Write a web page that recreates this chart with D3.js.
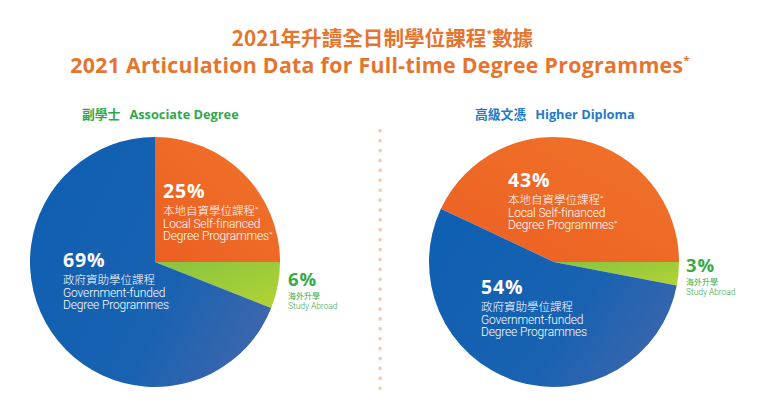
<!DOCTYPE html>
<html>
<head>
<meta charset="utf-8">
<script src="https://cdn.jsdelivr.net/npm/d3@7"></script>
<style>
  html, body { margin: 0; padding: 0; background: #ffffff; }
  svg { display: block; }
</style>
</head>
<body>
<svg id="chart" width="778" height="411"></svg>
<script>
// ---- Data ----
const titleZh = "2021年升讀全日制學位課程";
const titleZh2 = "數據";
const titleEn = "2021 Articulation Data for Full-time Degree Programmes";
const categoriesZh = ["本地自資學位課程", "海外升學", "政府資助學位課程"];
const categoriesEn = [["Local Self-financed", "Degree Programmes"], ["Study Abroad"], ["Government-funded", "Degree Programmes"]];
const categoryKeys = ["self", "abroad", "gov"];
const associateValues = [25, 6, 69];
const diplomaValues = [43, 3, 54];
const groupNamesZh = ["副學士", "高級文憑"];
const groupNamesEn = ["Associate Degree", "Higher Diploma"];

const svg = d3.select("#chart");
const zhFont = "'Noto Sans CJK TC', 'Noto Sans CJK SC', sans-serif";
const enFont = "'Open Sans', 'Noto Sans', sans-serif";
const lblFont = "Roboto, 'Open Sans', sans-serif";

// ---- Gradients ----
const defs = svg.append("defs");
function lin(id, x1, y1, x2, y2, stops) {
  const g = defs.append("linearGradient").attr("id", id)
    .attr("x1", x1).attr("y1", y1).attr("x2", x2).attr("y2", y2);
  stops.forEach(s => g.append("stop").attr("offset", s[0]).attr("stop-color", s[1]));
}
lin("gBlue", "0%", "30%", "100%", "80%", [["0%", "#0f5fb2"], ["60%", "#1a62b1"], ["100%", "#4066ad"]]);
lin("gOrange", "100%", "0%", "0%", "100%", [["0%", "#f0742a"], ["100%", "#ec5f22"]]);
lin("gGreen", "0%", "0%", "100%", "100%", [["0%", "#86c440"], ["100%", "#b4d334"]]);
const fills = { self: "url(#gOrange)", abroad: "url(#gGreen)", gov: "url(#gBlue)" };

// ---- Title ----
const t1 = svg.append("text").attr("x", 382.5).attr("y", 46)
  .attr("text-anchor", "middle").attr("fill", "#e5742f")
  .style("font-family", zhFont).style("font-weight", 700).style("font-size", "20.6px");
t1.append("tspan").text(titleZh);
t1.append("tspan").text("*").style("font-size", "11px").attr("dy", -7);
t1.append("tspan").text(titleZh2).attr("dy", 7);

const t2 = svg.append("text").attr("x", 380).attr("y", 72.5)
  .attr("text-anchor", "middle").attr("fill", "#e5742f")
  .style("font-family", enFont).style("font-weight", 700).style("font-size", "21.3px")
  .style("letter-spacing", "0.3px");
t2.append("tspan").text(titleEn);
t2.append("tspan").text("*").style("font-size", "11px").attr("dy", -9);

// ---- Divider ----
const dotY = d3.range(129, 390, 9.9);
svg.append("g").selectAll("rect").data(dotY).join("rect")
  .attr("x", 378.5).attr("y", d => d).attr("width", 3.2).attr("height", 3.6).attr("rx", 1.4)
  .attr("fill", "#f8c6a8");

// ---- Pies ----
const R = 125;
const arc = d3.arc().innerRadius(0).outerRadius(R);

function drawPie(cx, cy, values, groupIdx, headerX, headerColor, labelPos) {
  const frac0 = values[0] / d3.sum(values);
  const start = Math.PI / 2 - frac0 * 2 * Math.PI;
  const pie = d3.pie().sort(null).value(d => d.v)
    .startAngle(start).endAngle(start + 2 * Math.PI);
  const data = values.map((v, i) => ({ v, key: categoryKeys[i], i }));
  const g = svg.append("g").attr("transform", `translate(${cx},${cy})`);
  g.selectAll("path").data(pie(data)).join("path")
    .attr("d", arc).attr("fill", d => fills[d.data.key]);

  // header
  const h = svg.append("text").attr("x", headerX).attr("y", 119).attr("fill", headerColor)
    .style("font-weight", 700).style("font-size", "12.8px");
  h.append("tspan").text(groupNamesZh[groupIdx]).style("font-family", zhFont);
  h.append("tspan").text(groupNamesEn[groupIdx]).attr("dx", 9).style("font-family", enFont);

  // labels (one text block each, lines as tspans)
  data.forEach((d, i) => {
    const p = labelPos[i];
    const small = d.key === "abroad";
    const col = small ? "#3aa947" : "#ffffff";
    const t = svg.append("text").attr("x", p[0]).attr("y", p[1]).attr("fill", col);
    t.append("tspan").attr("x", p[0]).text(d.v + "%")
      .style("font-family", enFont).style("font-weight", 700)
      .style("font-size", small ? "18.5px" : "19.5px").style("letter-spacing", "0.8px");
    t.append("tspan").attr("x", p[0]).attr("dy", small ? 13 : 17)
      .style("font-family", zhFont).style("font-size", (small ? 8 : 11.5) + "px")
      .style("font-weight", small ? 400 : 300).text(categoriesZh[i]);
    if (d.key === "self") t.append("tspan").text("*").attr("dy", -4).style("font-size", "7px");
    categoriesEn[i].forEach((line, j) => {
      let dy = small ? 9.5 : 12.5;
      if (d.key === "self" && j === 0) dy += 4;
      t.append("tspan").attr("x", p[0]).attr("dy", dy).text(line)
        .style("font-family", lblFont).style("font-size", (small ? 8.6 : 12) + "px")
        .style("font-weight", 300)
        .style("letter-spacing", small ? "-0.1px" : "-0.15px");
      if (d.key === "self" && j === 1) {
        t.append("tspan").text("*").attr("dy", -4).style("font-size", "7px");
      }
    });
  });
}

drawPie(155, 262, associateValues, 0, 82, "#32a84d",
  [[163, 198], [288, 286], [63, 267]]);
drawPie(554, 262, diplomaValues, 1, 475, "#1f7bc6",
  [[508, 187], [686, 272], [481, 294]]);
</script>
</body>
</html>
